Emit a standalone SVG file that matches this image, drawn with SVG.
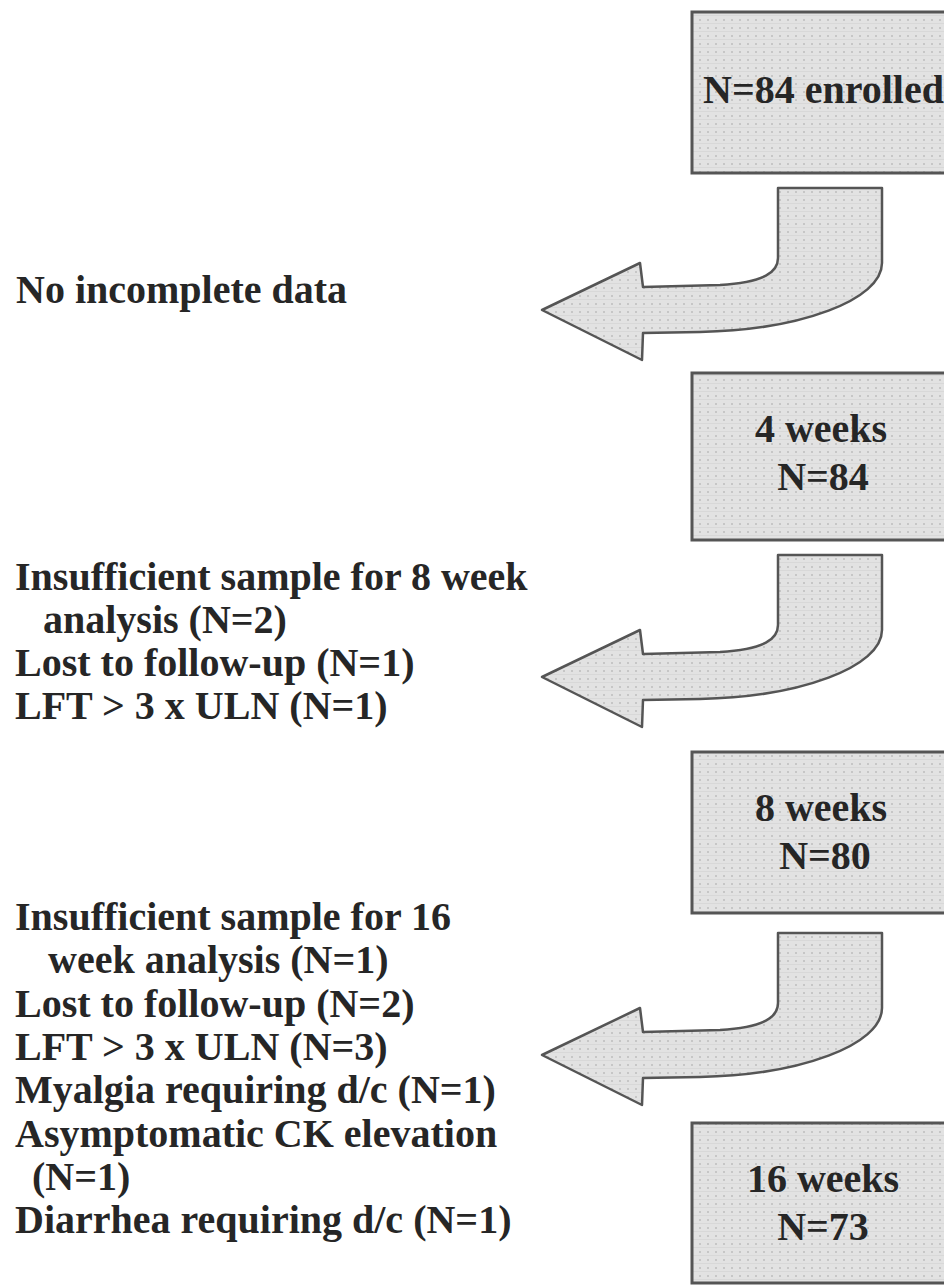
<svg xmlns="http://www.w3.org/2000/svg" width="944" height="1286" viewBox="0 0 944 1286">
<style>
.t{font-family:"Liberation Serif","Times New Roman",serif;font-weight:bold;font-size:40px;fill:#262626}
.c{text-anchor:middle}
.box{fill:url(#dots);stroke:#555;stroke-width:3}
.arr{fill:url(#dots);stroke:#555;stroke-width:2.5;stroke-linejoin:round}
</style>
<defs>
<pattern id="dots" width="8" height="8" patternUnits="userSpaceOnUse">
<rect width="8" height="8" fill="#e2e2e2"/>
<rect x="3" y="3" width="2" height="2" fill="#c6c6c6"/>
<rect x="0" y="7" width="8" height="1" fill="#d8d8d8"/>
</pattern>
<path id="bend" d="M 778 0 L 882 0 L 882 75 C 882 112 800 142 700 144 L 643 145 L 642 172 L 542 122 L 640 75 L 643 99 L 720 97 C 765 94 778 84 778 70 Z"/>
</defs>
<rect width="944" height="1286" fill="#fff"/>
<g id="connectors">
<use href="#bend" class="arr" y="188"/>
<use href="#bend" class="arr" y="555"/>
<use href="#bend" class="arr" y="933"/>
</g>
<g id="enrolled">
<rect class="box" x="692" y="12" width="270" height="161"/>
<text class="t" x="703" y="103">N=84 enrolled</text>
</g>
<g id="week4">
<rect class="box" x="692" y="373" width="270" height="167"/>
<text class="t c" x="821" y="442">4 weeks</text>
<text class="t c" x="823" y="490">N=84</text>
</g>
<g id="week8">
<rect class="box" x="692" y="752" width="270" height="161"/>
<text class="t c" x="821" y="821">8 weeks</text>
<text class="t c" x="825" y="869">N=80</text>
</g>
<g id="week16">
<rect class="box" x="692" y="1123" width="270" height="160"/>
<text class="t c" x="823" y="1192">16 weeks</text>
<text class="t c" x="823" y="1240">N=73</text>
</g>
<g id="excl1">
<text class="t" x="16" y="303">No incomplete data</text>
</g>
<g id="excl2">
<text class="t" x="15" y="590">Insufficient sample for 8 week</text>
<text class="t" x="43" y="633">analysis (N=2)</text>
<text class="t" x="15" y="676">Lost to follow-up (N=1)</text>
<text class="t" x="15" y="719">LFT &gt; 3 x ULN (N=1)</text>
</g>
<g id="excl3">
<text class="t" x="15" y="930">Insufficient sample for 16</text>
<text class="t" x="48" y="973">week analysis (N=1)</text>
<text class="t" x="15" y="1017">Lost to follow-up (N=2)</text>
<text class="t" x="15" y="1060">LFT &gt; 3 x ULN (N=3)</text>
<text class="t" x="15" y="1103">Myalgia requiring d/c (N=1)</text>
<text class="t" x="15" y="1147">Asymptomatic CK elevation</text>
<text class="t" x="32" y="1190">(N=1)</text>
<text class="t" x="15" y="1233">Diarrhea requiring d/c (N=1)</text>
</g>
</svg>
